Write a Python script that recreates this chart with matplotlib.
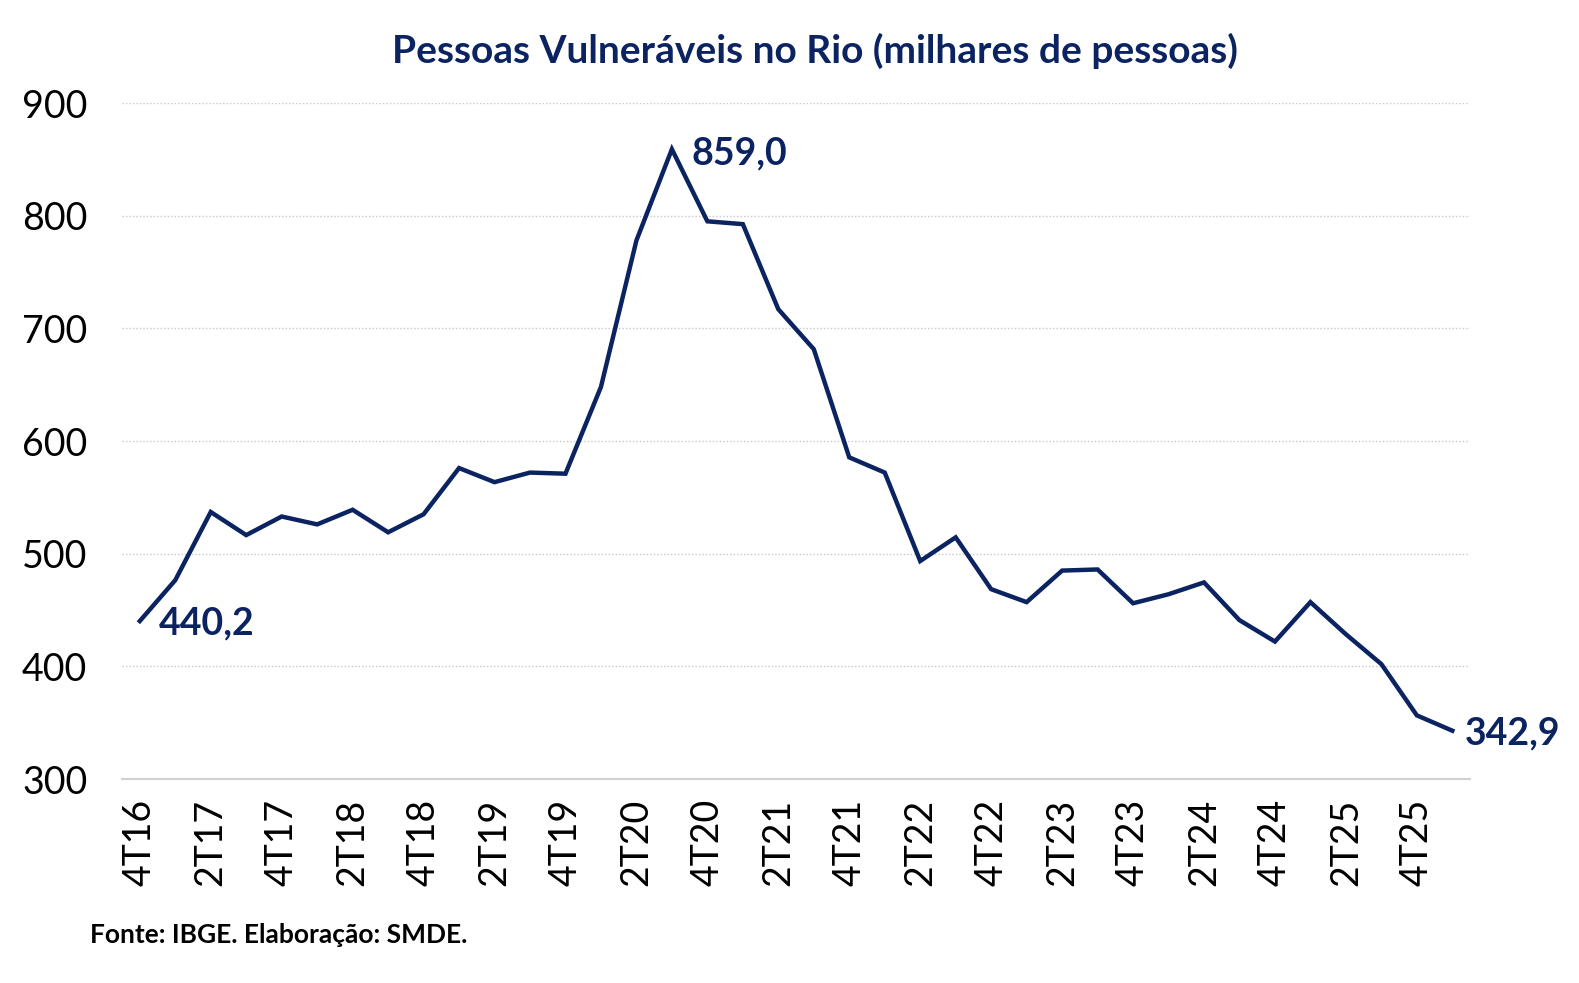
import numpy as np
import matplotlib
matplotlib.use("Agg")
import matplotlib.pyplot as plt

# quarters 4T16 .. 1T26
quarters = ["4T16",
            "1T17", "2T17", "3T17", "4T17",
            "1T18", "2T18", "3T18", "4T18",
            "1T19", "2T19", "3T19", "4T19",
            "1T20", "2T20", "3T20", "4T20",
            "1T21", "2T21", "3T21", "4T21",
            "1T22", "2T22", "3T22", "4T22",
            "1T23", "2T23", "3T23", "4T23",
            "1T24", "2T24", "3T24", "4T24",
            "1T25", "2T25", "3T25", "4T25",
            "1T26"]
vulneraveis = [440.2,
               476.5, 537.0, 516.5, 533.0,
               526.0, 539.0, 519.0, 535.0,
               576.0, 563.5, 572.0, 571.0,
               648.0, 778.0, 859.0, 795.0,
               792.5, 717.0, 681.5, 585.5,
               572.0, 493.5, 514.5, 468.5,
               457.0, 485.0, 486.0, 456.0,
               464.0, 474.5, 441.0, 422.0,
               457.0, 428.5, 402.0, 356.5,
               342.9]
yticks = [300, 400, 500, 600, 700, 800, 900]

navy = "#0B2461"
plt.rcParams["font.family"] = ["Lato", "DejaVu Sans"]

fig = plt.figure(figsize=(15.79, 9.83), dpi=100)
ax = fig.add_axes([0.0773, 0.2075, 0.8537, 0.6877])

x = np.arange(len(quarters))
ax.plot(x, vulneraveis, color=navy, lw=3.2, solid_joinstyle="miter")

ax.set_xlim(-0.5, len(quarters) - 0.5)
ax.set_ylim(300, 900)
ax.set_yticks(yticks)
ax.set_yticklabels([str(v) for v in yticks], fontsize=27)
ax.set_xticks(x[::2])
ax.set_xticklabels(quarters[::2], rotation=90, fontsize=27)
ax.tick_params(axis="y", length=0, pad=25)
ax.tick_params(axis="x", length=0, pad=14)

for v in yticks[1:]:
    ax.axhline(v, color="#c8c8c8", lw=1, ls=(0, (1, 1.5)), zorder=0)
for s in ["top", "right", "left"]:
    ax.spines[s].set_visible(False)
ax.spines["bottom"].set_color("#d0d0d0")
ax.spines["bottom"].set_linewidth(1.5)

def fmt(v):
    return f"{v:.1f}".replace(".", ",")

ax.annotate(fmt(vulneraveis[0]), (x[0], vulneraveis[0]), xytext=(14, -2),
            textcoords="offset points", fontsize=27, fontweight="bold",
            color=navy, ha="left", va="center")
i_max = int(np.argmax(vulneraveis))
ax.annotate(fmt(vulneraveis[i_max]), (x[i_max], vulneraveis[i_max]), xytext=(14, -3),
            textcoords="offset points", fontsize=27, fontweight="bold",
            color=navy, ha="left", va="center")
ax.annotate(fmt(vulneraveis[-1]), (x[-1], vulneraveis[-1]), xytext=(9, -2),
            textcoords="offset points", fontsize=27, fontweight="bold",
            color=navy, ha="left", va="center", annotation_clip=False)

fig.text(0.516, 0.948, "Pessoas Vulneráveis no Rio (milhares de pessoas)",
         ha="center", va="center", fontsize=28, fontweight="bold", color=navy)
fig.text(0.057, 0.049, "Fonte: IBGE. Elaboração: SMDE.", ha="left", va="center",
         fontsize=19, fontweight="bold", color="black")

fig.savefig("out.png", dpi=100)
